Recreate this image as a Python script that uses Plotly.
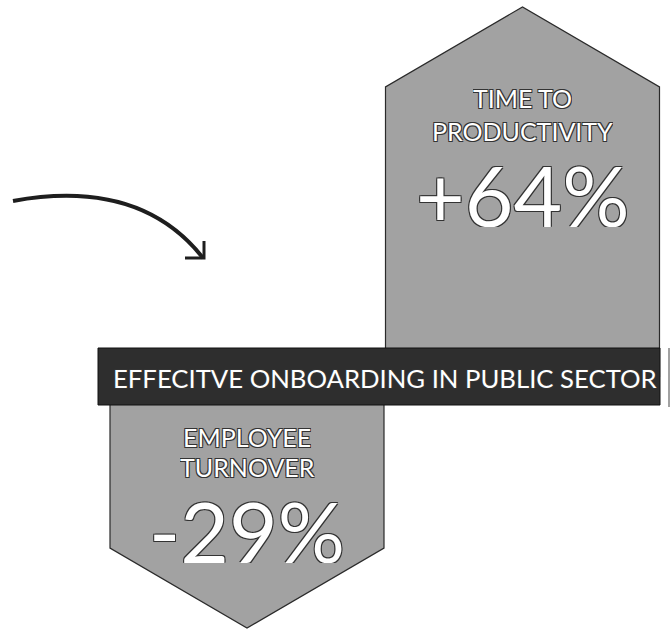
import plotly.graph_objects as go

# ---- data -------------------------------------------------------------
metrics = ["TIME TO<br>PRODUCTIVITY", "EMPLOYEE<br>TURNOVER"]
values = [64, -29]
value_labels = ["+64%", "-29%"]
banner = "EFFECITVE ONBOARDING IN PUBLIC SECTOR"

# ---- layout parameters (pixel-like canvas) -----------------------------
W, H = 671, 634
centers = [522.5, 247]
half_w = 137
head_h = 80
band_top, band_bot = 348, 405
band_left, band_right = 98, 660
# arrow length scale (value -> length from band edge)
len_a, len_b = 125.3, 3.371

FILL = "#a2a2a2"
EDGE = "#2a2a2a"
BAND = "#2e2e2e"
FONT = "Lato"
SHADOW = "-1px -1px 0 #333, 1px -1px 0 #333, -1px 1px 0 #333, 1px 1px 0 #333"

fig = go.Figure()
band_mid = (band_top + band_bot) / 2

for cx, v, lab, vl in zip(centers, values, metrics, value_labels):
    L = len_a + len_b * abs(v)
    if v >= 0:
        tip = band_top - L
        shoulder = tip + head_h
    else:
        tip = band_bot + L
        shoulder = tip - head_h
    xs = [cx - half_w, cx - half_w, cx, cx + half_w, cx + half_w, cx - half_w]
    ys = [band_mid, shoulder, tip, shoulder, band_mid, band_mid]
    fig.add_trace(go.Scatter(x=xs, y=ys, mode="lines", fill="toself",
                             fillcolor=FILL, line=dict(color=EDGE, width=1.2),
                             hoverinfo="skip", showlegend=False))
    lines = lab.split("<br>")
    if v >= 0:
        ly = [98, 131]
        vy = 194
    else:
        ly = [437, 467]
        vy = 530
    for t, yy in zip(lines, ly):
        fig.add_annotation(x=cx, y=yy, text=t, showarrow=False, xanchor="center",
                           yanchor="middle", height=26,
                           font=dict(family=FONT, size=25, color="white", shadow=SHADOW))
    fig.add_annotation(x=cx, y=vy, text=vl, showarrow=False, xanchor="center",
                       yanchor="middle", height=66,
                       font=dict(family=FONT, size=84, color="white", weight=400,
                                 shadow=SHADOW))

# banner
fig.add_shape(type="rect", x0=band_left, x1=band_right, y0=band_top, y1=band_bot,
              xref="x", yref="y", fillcolor=BAND, line=dict(color="#111", width=1),
              layer="above")
fig.add_shape(type="line", x0=669, x1=669, y0=band_top, y1=band_bot + 2,
              xref="x", yref="y", line=dict(color="#444", width=1), layer="above")
fig.add_annotation(x=385, y=band_mid + 1, text=banner,
                   showarrow=False, xanchor="center", yanchor="middle",
                   font=dict(family=FONT, size=25.7, color="white", shadow=SHADOW))

# curved pointer arrow
fig.add_shape(type="path", path="M 13 201 Q 140 178 203 258", xref="x", yref="y",
              line=dict(color="#1e1e1e", width=4))
fig.add_shape(type="path", path="M 185 258 L 204 258 L 204 241", xref="x", yref="y",
              line=dict(color="#1e1e1e", width=3))

fig.update_xaxes(range=[0, W], visible=False, fixedrange=True)
fig.update_yaxes(range=[H, 0], visible=False, fixedrange=True)
fig.update_layout(width=W, height=H, autosize=False,
                  margin=dict(l=0, r=0, t=0, b=0),
                  paper_bgcolor="white", plot_bgcolor="white")

fig.write_html("out.html")
